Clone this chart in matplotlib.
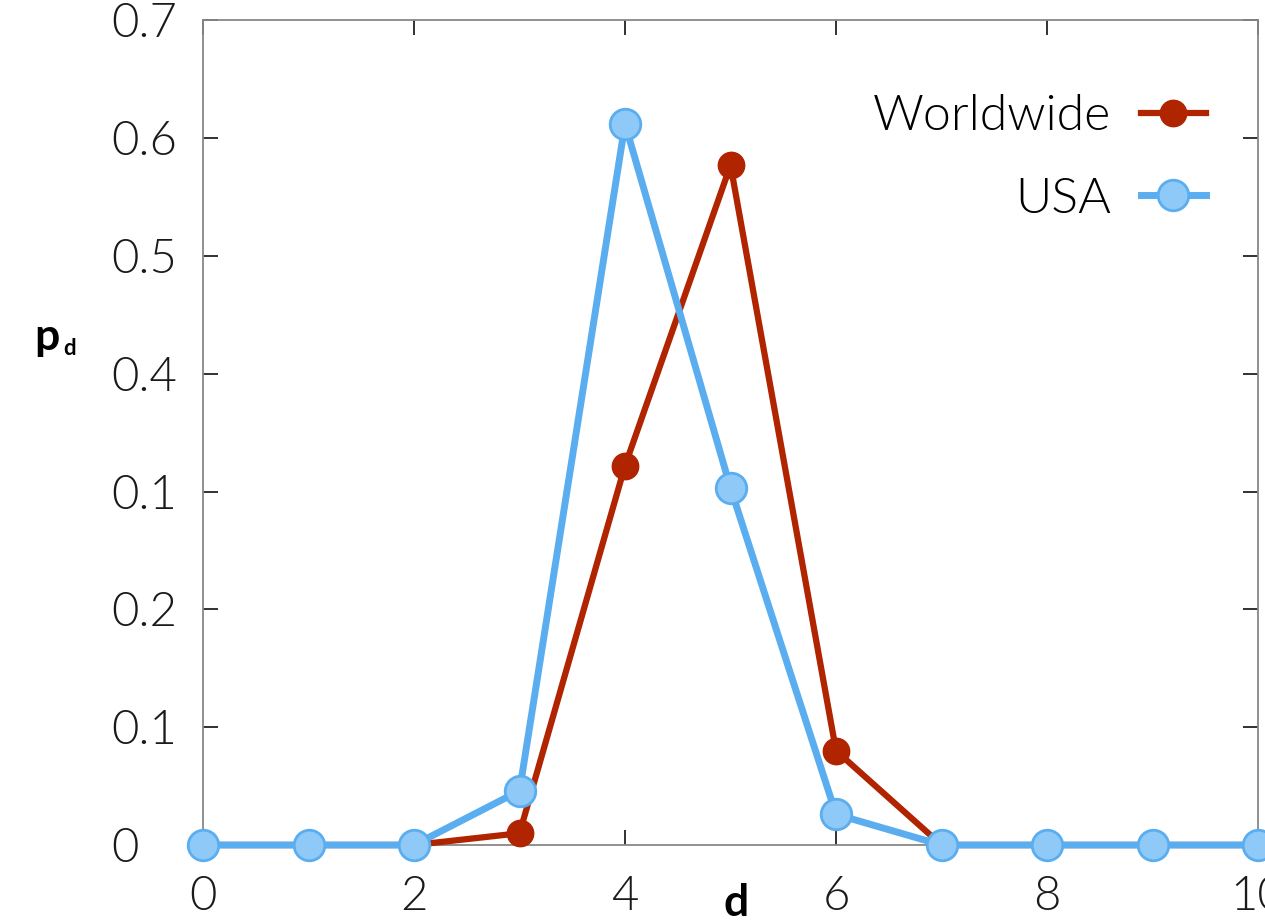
import numpy as np
import matplotlib.pyplot as plt

# path length distribution
d = [0, 1, 2, 3, 4, 5, 6, 7, 8, 9, 10]
worldwide = [0, 0, 0, 0.01, 0.322, 0.577, 0.08, 0, 0, 0, 0]
usa = [0, 0, 0, 0.046, 0.612, 0.303, 0.026, 0, 0, 0, 0]

yticks = [0, 0.1, 0.2, 0.3, 0.4, 0.5, 0.6, 0.7]
ytick_labels = ["0", "0.1", "0.2", "0.1", "0.4", "0.5", "0.6", "0.7"]
xticks = [0, 2, 4, 6, 8, 10]

red = "#b02400"
blue = "#5aaef0"
blue_face = "#8ec9f7"

plt.rcParams['font.family'] = ['Lato', 'DejaVu Sans']

fig = plt.figure(figsize=(12.65, 9.22), dpi=100)
ax = fig.add_axes([0.1605, 0.0835, 0.834, 0.8945])

ax.plot(d, worldwide, color=red, lw=4.5, marker="o", ms=19, mfc=red, mec=red,
        clip_on=False, zorder=3, label="Worldwide")
ax.plot(d, usa, color=blue, lw=5, marker="o", ms=22, mfc=blue_face, mec=blue, mew=2,
        clip_on=False, zorder=4, label="USA")

ax.set_xlim(0, 10)
ax.set_ylim(0, 0.7)
ax.set_xticks(xticks)
ax.set_xticklabels([str(x) for x in xticks], fontsize=34, fontweight=300, color="#1a1a1a")
ax.set_yticks(yticks)
ax.set_yticklabels(ytick_labels, fontsize=34, fontweight=300, color="#1a1a1a")
for lab in ax.get_yticklabels():
    lab.set_horizontalalignment("left")

ax.tick_params(axis="y", direction="in", length=11, width=1.3, color="#222222",
               left=True, right=True, pad=66)
ax.tick_params(axis="x", direction="in", length=11, width=1.3, color="#222222",
               top=True, bottom=True, pad=22)

for s in ax.spines.values():
    s.set_color("#888888")
    s.set_linewidth(1.3)

fig.text(0.037, 0.620, "p", fontsize=32, fontweight="bold", ha="center", va="baseline")
fig.text(0.055, 0.615, "d", fontsize=16, fontweight="bold", ha="center", va="baseline")
fig.text(0.582, 0.006, "d", fontsize=32, fontweight="bold", ha="center", va="baseline")

ax.legend(loc="upper right", bbox_to_anchor=(0.993, 0.965), frameon=False,
          markerfirst=False, handlelength=1.3, handletextpad=0.6,
          labelspacing=0.75, prop={"family": ["Lato", "DejaVu Sans"], "size": 36, "weight": 300})

fig.savefig("out.png", dpi=100, facecolor="white")
